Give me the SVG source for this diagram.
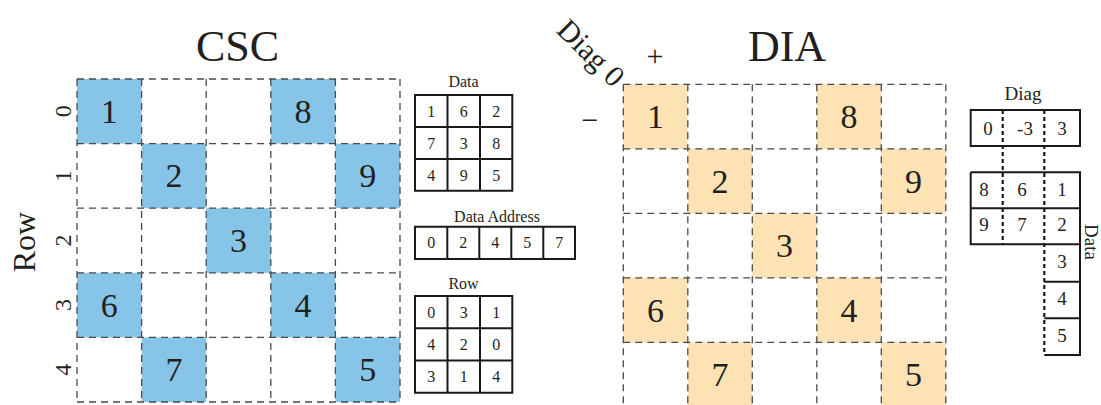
<svg xmlns="http://www.w3.org/2000/svg" width="1101" height="405" viewBox="0 0 1101 405">
<style>
text{font-family:"Liberation Serif","Times New Roman",serif;fill:#231f20}
.big{font-size:34px;text-anchor:middle}
.title{font-size:44px;text-anchor:middle}
.lab{font-size:24px;text-anchor:middle}
.sm{font-size:16px;text-anchor:middle}
.md{font-size:19px;text-anchor:middle}
.grid{stroke:#4a4a4a;stroke-width:1.3;stroke-dasharray:7 5;fill:none}
.tb{stroke:#1a1a1a;stroke-width:2;fill:none}
.dot{stroke:#1a1a1a;stroke-width:2.2;stroke-dasharray:4 3;fill:none}
.blue{fill:#86c5e7}
.peach{fill:#fde2b4}
</style>
<rect width="1101" height="405" fill="#fff"/>

<g id="csc">
<text class="title" x="237.5" y="61">CSC</text>
<text x="35" y="242" font-size="32" text-anchor="middle" transform="rotate(-90 35 242)">Row</text>
<g id="csc-rowlabels">
<text class="lab" x="71" y="111.3" transform="rotate(-90 71 111.3)">0</text>
<text class="lab" x="71" y="175.9" transform="rotate(-90 71 175.9)">1</text>
<text class="lab" x="71" y="240.5" transform="rotate(-90 71 240.5)">2</text>
<text class="lab" x="71" y="305.1" transform="rotate(-90 71 305.1)">3</text>
<text class="lab" x="71" y="369.7" transform="rotate(-90 71 369.7)">4</text>
</g>
<g id="csc-cells">
<rect class="blue" x="77" y="79" width="64.6" height="64.6"/>
<rect class="blue" x="270.8" y="79" width="64.6" height="64.6"/>
<rect class="blue" x="141.6" y="143.6" width="64.6" height="64.6"/>
<rect class="blue" x="335.4" y="143.6" width="64.6" height="64.6"/>
<rect class="blue" x="206.2" y="208.2" width="64.6" height="64.6"/>
<rect class="blue" x="77" y="272.8" width="64.6" height="64.6"/>
<rect class="blue" x="270.8" y="272.8" width="64.6" height="64.6"/>
<rect class="blue" x="141.6" y="337.4" width="64.6" height="64.6"/>
<rect class="blue" x="335.4" y="337.4" width="64.6" height="64.6"/>
</g>
<path class="grid" d="M77 79H400M77 143.6H400M77 208.2H400M77 272.8H400M77 337.4H400M77 402H400M77 79V402M141.6 79V402M206.2 79V402M270.8 79V402M335.4 79V402M400 79V402"/>
<g id="csc-values">
<text class="big" x="109.3" y="122.8">1</text>
<text class="big" x="303.1" y="122.8">8</text>
<text class="big" x="173.9" y="187.4">2</text>
<text class="big" x="367.7" y="187.4">9</text>
<text class="big" x="238.5" y="252">3</text>
<text class="big" x="109.3" y="316.6">6</text>
<text class="big" x="303.1" y="316.6">4</text>
<text class="big" x="173.9" y="381.2">7</text>
<text class="big" x="367.7" y="381.2">5</text>
</g>
</g>

<g id="csc-data">
<text class="sm" x="463.5" y="87">Data</text>
<path class="tb" d="M415 95H512.3V190.7H415ZM447.5 95V190.7M480 95V190.7M415 127H512.3M415 159H512.3"/>
<text class="sm" x="431.2" y="117">1</text><text class="sm" x="463.7" y="117">6</text><text class="sm" x="496.2" y="117">2</text>
<text class="sm" x="431.2" y="149">7</text><text class="sm" x="463.7" y="149">3</text><text class="sm" x="496.2" y="149">8</text>
<text class="sm" x="431.2" y="181">4</text><text class="sm" x="463.7" y="181">9</text><text class="sm" x="496.2" y="181">5</text>
</g>

<g id="csc-address">
<text class="sm" x="497" y="221.5">Data Address</text>
<path class="tb" d="M415 226.7H575V259H415ZM447.3 226.7V259M479.3 226.7V259M511.3 226.7V259M543.3 226.7V259"/>
<text class="sm" x="431.2" y="248">0</text><text class="sm" x="463.3" y="248">2</text><text class="sm" x="495.3" y="248">4</text><text class="sm" x="527.3" y="248">5</text><text class="sm" x="559.2" y="248">7</text>
</g>

<g id="csc-row">
<text class="sm" x="463.5" y="289">Row</text>
<path class="tb" d="M415 296H512.3V392.7H415ZM447.5 296V392.7M480 296V392.7M415 328.3H512.3M415 360.5H512.3"/>
<text class="sm" x="431.2" y="318">0</text><text class="sm" x="463.7" y="318">3</text><text class="sm" x="496.2" y="318">1</text>
<text class="sm" x="431.2" y="350">4</text><text class="sm" x="463.7" y="350">2</text><text class="sm" x="496.2" y="350">0</text>
<text class="sm" x="431.2" y="382">3</text><text class="sm" x="463.7" y="382">1</text><text class="sm" x="496.2" y="382">4</text>
</g>

<g id="dia">
<text class="title" x="787" y="61">DIA</text>
<text x="591" y="63" font-size="30" text-anchor="middle" transform="rotate(45 591 53)">Diag 0</text>
<text x="655" y="66" font-size="30" text-anchor="middle">+</text>
<text x="590" y="130" font-size="30" text-anchor="middle">−</text>
<g id="dia-cells">
<rect class="peach" x="623.3" y="84.3" width="64.5" height="64.5"/>
<rect class="peach" x="816.8" y="84.3" width="64.5" height="64.5"/>
<rect class="peach" x="687.8" y="148.8" width="64.5" height="64.5"/>
<rect class="peach" x="881.3" y="148.8" width="64.5" height="64.5"/>
<rect class="peach" x="752.3" y="213.3" width="64.5" height="64.5"/>
<rect class="peach" x="623.3" y="277.8" width="64.5" height="64.5"/>
<rect class="peach" x="816.8" y="277.8" width="64.5" height="64.5"/>
<rect class="peach" x="687.8" y="342.3" width="64.5" height="64.5"/>
<rect class="peach" x="881.3" y="342.3" width="64.5" height="64.5"/>
</g>
<path class="grid" d="M623.3 84.3H945.8M623.3 148.8H945.8M623.3 213.3H945.8M623.3 277.8H945.8M623.3 342.3H945.8M623.3 84.3V406M687.8 84.3V406M752.3 84.3V406M816.8 84.3V406M881.3 84.3V406M945.8 84.3V406"/>
<g id="dia-values">
<text class="big" x="655.5" y="128">1</text>
<text class="big" x="849" y="128">8</text>
<text class="big" x="720" y="192.5">2</text>
<text class="big" x="913.5" y="192.5">9</text>
<text class="big" x="784.5" y="257">3</text>
<text class="big" x="655.5" y="321.5">6</text>
<text class="big" x="849" y="321.5">4</text>
<text class="big" x="720" y="386">7</text>
<text class="big" x="913.5" y="386">5</text>
</g>
</g>

<g id="dia-diag">
<text class="md" x="1023" y="100">Diag</text>
<rect class="tb" x="970.7" y="110" width="109.3" height="36"/>
<text class="md" x="988" y="135">0</text><text class="md" x="1025" y="135">-3</text><text class="md" x="1062" y="135">3</text>
</g>

<g id="dia-data">
<path class="tb" d="M970.7 172.3H1080V355H1044.3M970.7 172.3V244.3H1080M970.7 208.3H1080M1044.3 281.7H1080M1044.3 318.3H1080"/>
<path class="dot" d="M1002.7 110V244.3M1044.3 110V355"/>
<text class="md" x="984" y="196">8</text><text class="md" x="1022" y="196">6</text><text class="md" x="1062" y="196">1</text>
<text class="md" x="984" y="231">9</text><text class="md" x="1022" y="231">7</text><text class="md" x="1062" y="231">2</text>
<text class="md" x="1062" y="268">3</text>
<text class="md" x="1062" y="305">4</text>
<text class="md" x="1062" y="342">5</text>
<text class="md" x="1085" y="242" transform="rotate(90 1085 242)">Data</text>
</g>
</svg>
